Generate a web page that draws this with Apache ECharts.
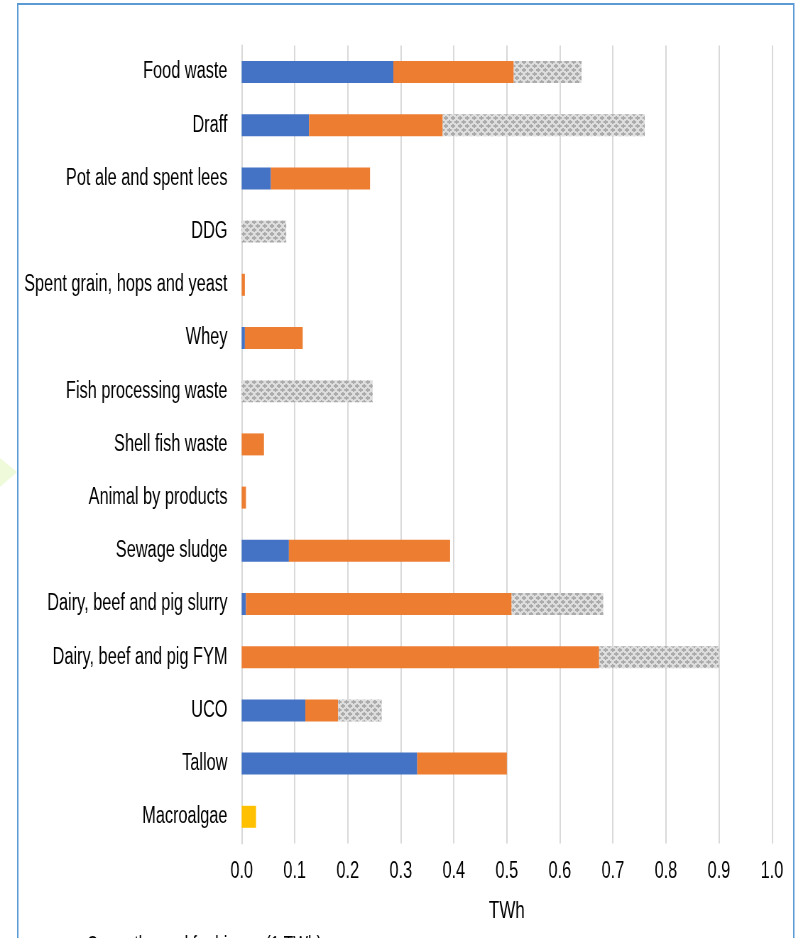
<!DOCTYPE html>
<html>
<head>
<meta charset="utf-8">
<script src="https://cdn.jsdelivr.net/npm/echarts@6/dist/echarts.min.js"></script>
<style>
  html, body { margin: 0; padding: 0; background: #fff; overflow: hidden; }
  /* the source chart has tall, narrow text: draw wide, then squeeze horizontally */
  #chart { width: 1120px; height: 938px; transform: scaleX(0.71); transform-origin: 0 0; }
</style>
</head>
<body>
<div id="chart"></div>
<script>
const categories = [
  "Food waste", "Draff", "Pot ale and spent lees", "DDG",
  "Spent grain, hops and yeast", "Whey", "Fish processing waste",
  "Shell fish waste", "Animal by products", "Sewage sludge",
  "Dairy, beef and pig slurry", "Dairy, beef and pig FYM", "UCO",
  "Tallow", "Macroalgae"
];
const biogasNow = [0.286, 0.127, 0.055, 0, 0, 0.006, 0, 0, 0, 0.089, 0.008, 0, 0.120, 0.331, 0];
const orangePart = [0.227, 0.252, 0.187, 0, 0.006, 0.109, 0, 0.042, 0.008, 0.304, 0.501, 0.674, 0.062, 0.169, 0];
const hatchedPart = [0.128, 0.381, 0, 0.084, 0, 0, 0.247, 0, 0, 0, 0.173, 0.226, 0.082, 0, 0];
const macroalgae = [0, 0, 0, 0, 0, 0, 0, 0, 0, 0, 0, 0, 0, 0, 0.027];
const xTicks = ["0.0", "0.1", "0.2", "0.3", "0.4", "0.5", "0.6", "0.7", "0.8", "0.9", "1.0"];

// grey diamond-ish pattern like the Excel fill
function makeHatch() {
  let c = document.createElement("canvas");
  c.width = 10;
  c.height = 8;
  let ctx = c.getContext("2d");
  ctx.fillStyle = "#dedede";
  ctx.fillRect(0, 0, 10, 8);
  ctx.fillStyle = "#ababab";
  // two staggered little crosses
  ctx.fillRect(2, 0, 2, 4);
  ctx.fillRect(0, 1, 6, 2);
  ctx.fillRect(7, 4, 2, 4);
  ctx.fillRect(5, 5, 5, 2);
  ctx.fillRect(0, 5, 1, 2);
  return c;
}

const font = "Liberation Sans, Arial, sans-serif";
let chart = echarts.init(document.getElementById("chart"));
let option = {
  animation: false,
  textStyle: { fontFamily: font },
  graphic: [
    {
      type: "polygon",
      shape: { points: [[0, 458], [24, 472], [0, 487]] },
      style: { fill: "#eefad9" },
      z: -1
    },
    {
      type: "rect",
      shape: { x: 25, y: 4, width: 1093, height: 1000 },
      style: { fill: null, stroke: "#5b9bd5", lineWidth: 2 },
      z: -1
    }
  ],
  legend: {
    data: ["Currently used for biogas (1 TWh)"],
    left: 101,
    top: 929,
    itemWidth: 11,
    itemHeight: 11,
    itemGap: 20,
    icon: "rect",
    textStyle: { fontSize: 22, color: "#000", fontFamily: font }
  },
  grid: { left: 340.4, right: 32.7, top: 45.4, bottom: 94.6, containLabel: false },
  xAxis: {
    type: "value",
    min: 0,
    max: 1,
    interval: 0.1,
    name: "TWh",
    nameLocation: "middle",
    nameGap: 56,
    nameTextStyle: { fontSize: 24, color: "#000", fontFamily: font },
    axisLine: { show: false },
    axisTick: { show: false },
    axisLabel: {
      fontSize: 23,
      color: "#000",
      margin: 17,
      formatter: function(v) {
        return xTicks[Math.round(v * 10)];
      }
    },
    splitLine: { show: true, lineStyle: { color: "#d9d9d9", width: 2 } }
  },
  yAxis: {
    type: "category",
    inverse: true,
    data: categories,
    axisLine: { show: true, lineStyle: { color: "#d9d9d9", width: 2 } },
    axisTick: { show: false },
    axisLabel: { fontSize: 23, color: "#000", margin: 20 }
  },
  series: [
    {
      name: "Currently used for biogas (1 TWh)",
      type: "bar",
      stack: "total",
      barWidth: 22,
      itemStyle: { color: "#4472c4" },
      data: biogasNow
    },
    {
      name: "Other current use",
      type: "bar",
      stack: "total",
      barWidth: 22,
      itemStyle: { color: "#ed7d31" },
      data: orangePart
    },
    {
      name: "Unused",
      type: "bar",
      stack: "total",
      barWidth: 22,
      itemStyle: { color: { image: makeHatch(), repeat: "repeat" } },
      data: hatchedPart
    },
    {
      name: "Macroalgae potential",
      type: "bar",
      stack: "total",
      barWidth: 22,
      itemStyle: { color: "#ffc000" },
      data: macroalgae
    }
  ]
};
chart.setOption(option);
</script>
</body>
</html>
